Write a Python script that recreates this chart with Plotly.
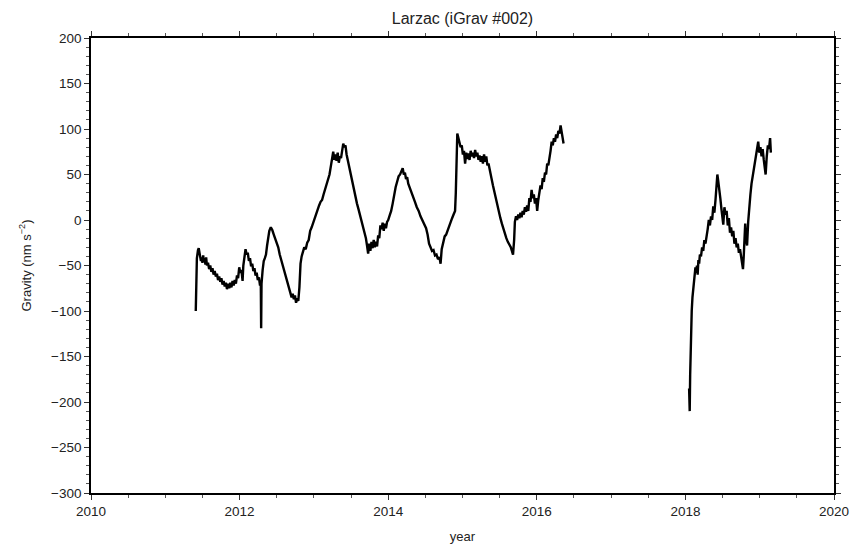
import plotly.graph_objects as go

# ---- data (year, gravity in nm/s^2) ----
seg1_points = [
    (2011.410, -100), (2011.415, -60), (2011.425, -42), (2011.440, -33), (2011.450, -31),
    (2011.460, -36), (2011.470, -40), (2011.480, -45), (2011.490, -41), (2011.500, -47),
    (2011.510, -39), (2011.520, -46), (2011.530, -42), (2011.540, -49), (2011.550, -41),
    (2011.560, -50), (2011.575, -47), (2011.590, -54), (2011.605, -50), (2011.620, -57),
    (2011.635, -53), (2011.650, -60), (2011.665, -56), (2011.680, -62), (2011.695, -59),
    (2011.710, -66), (2011.725, -62), (2011.740, -68), (2011.755, -64), (2011.770, -71),
    (2011.785, -67), (2011.800, -73), (2011.815, -69), (2011.830, -76), (2011.845, -70),
    (2011.860, -75), (2011.875, -69), (2011.890, -74), (2011.905, -67), (2011.920, -72),
    (2011.935, -66), (2011.950, -70), (2011.965, -61), (2011.980, -64), (2011.995, -52),
    (2012.010, -58), (2012.025, -55), (2012.040, -67), (2012.050, -50), (2012.065, -40),
    (2012.080, -32), (2012.095, -38), (2012.110, -36), (2012.125, -45), (2012.140, -42),
    (2012.155, -51), (2012.170, -48), (2012.185, -56), (2012.200, -53), (2012.215, -61),
    (2012.230, -58), (2012.245, -66), (2012.260, -63), (2012.275, -72), (2012.285, -67),
    (2012.290, -119), (2012.295, -70), (2012.310, -55), (2012.325, -45), (2012.340, -42),
    (2012.355, -38), (2012.370, -28), (2012.385, -20), (2012.400, -12), (2012.420, -8),
    (2012.440, -11), (2012.460, -16), (2012.480, -20), (2012.500, -25), (2012.520, -30),
    (2012.540, -38), (2012.560, -44), (2012.580, -52), (2012.600, -58), (2012.620, -63),
    (2012.640, -69), (2012.660, -74), (2012.680, -79), (2012.700, -85), (2012.715, -81),
    (2012.730, -87), (2012.745, -83), (2012.760, -91), (2012.775, -86), (2012.790, -89),
    (2012.805, -74), (2012.820, -48), (2012.835, -40), (2012.850, -36), (2012.870, -30),
    (2012.890, -32), (2012.910, -25), (2012.930, -22), (2012.950, -12), (2012.970, -8),
    (2012.990, -3), (2013.010, 2), (2013.030, 8), (2013.050, 12), (2013.070, 16),
    (2013.090, 20), (2013.110, 22), (2013.130, 28), (2013.150, 33), (2013.170, 38),
    (2013.190, 44), (2013.210, 50), (2013.230, 60), (2013.245, 70), (2013.260, 75),
    (2013.275, 66), (2013.290, 72), (2013.305, 65), (2013.320, 74), (2013.335, 63),
    (2013.350, 70), (2013.365, 68), (2013.380, 78), (2013.395, 84), (2013.410, 80),
    (2013.425, 82), (2013.440, 72), (2013.460, 64), (2013.480, 55), (2013.500, 48),
    (2013.520, 40), (2013.540, 33), (2013.560, 26), (2013.580, 18), (2013.600, 12),
    (2013.620, 6), (2013.640, 0), (2013.660, -6), (2013.680, -12), (2013.700, -20),
    (2013.715, -28), (2013.730, -37), (2013.745, -26), (2013.760, -34), (2013.775, -24),
    (2013.790, -31), (2013.805, -22), (2013.820, -30), (2013.835, -24), (2013.850, -29),
    (2013.865, -17), (2013.880, -20), (2013.895, -6), (2013.910, -10), (2013.925, -3),
    (2013.940, -12), (2013.955, -4), (2013.970, -9), (2013.985, -2), (2014.000, 0),
    (2014.020, 5), (2014.040, 10), (2014.060, 18), (2014.080, 28), (2014.100, 36),
    (2014.120, 42), (2014.140, 48), (2014.160, 50), (2014.180, 54), (2014.195, 57),
    (2014.210, 50), (2014.225, 52), (2014.240, 45), (2014.255, 47), (2014.270, 40),
    (2014.290, 36), (2014.310, 32), (2014.335, 25), (2014.360, 20), (2014.385, 14),
    (2014.410, 10), (2014.435, 4), (2014.460, 0), (2014.485, -5), (2014.510, -9),
    (2014.530, -16), (2014.550, -26), (2014.570, -30), (2014.590, -34), (2014.610, -33),
    (2014.630, -39), (2014.650, -38), (2014.670, -43), (2014.690, -41), (2014.705, -48),
    (2014.720, -32), (2014.740, -24), (2014.760, -18), (2014.780, -16), (2014.800, -11),
    (2014.820, -7), (2014.840, -2), (2014.860, 2), (2014.880, 6), (2014.900, 10),
    (2014.910, 30), (2014.920, 80), (2014.930, 95), (2014.945, 90), (2014.960, 86),
    (2014.975, 80), (2014.990, 82), (2015.005, 72), (2015.020, 76), (2015.035, 62),
    (2015.050, 74), (2015.065, 67), (2015.080, 73), (2015.095, 66), (2015.110, 76),
    (2015.125, 70), (2015.140, 74), (2015.155, 68), (2015.170, 77), (2015.185, 70),
    (2015.200, 74), (2015.215, 66), (2015.230, 71), (2015.245, 64), (2015.260, 70),
    (2015.275, 62), (2015.290, 72), (2015.305, 64), (2015.320, 70), (2015.335, 60),
    (2015.350, 62), (2015.370, 52), (2015.390, 46), (2015.410, 38), (2015.430, 30),
    (2015.450, 22), (2015.470, 14), (2015.490, 8), (2015.510, 2), (2015.530, -4),
    (2015.550, -10), (2015.570, -16), (2015.590, -20), (2015.610, -24), (2015.630, -27),
    (2015.650, -30), (2015.665, -34), (2015.680, -38), (2015.695, -22), (2015.705, -2),
    (2015.720, 4), (2015.735, 0), (2015.750, 6), (2015.765, 2), (2015.780, 8),
    (2015.795, 3), (2015.810, 10), (2015.825, 6), (2015.840, 14), (2015.855, 9),
    (2015.870, 16), (2015.885, 10), (2015.900, 24), (2015.915, 20), (2015.930, 33),
    (2015.945, 24), (2015.960, 28), (2015.975, 18), (2015.990, 24), (2016.005, 10),
    (2016.020, 22), (2016.035, 30), (2016.050, 38), (2016.065, 34), (2016.080, 46),
    (2016.095, 42), (2016.110, 52), (2016.125, 50), (2016.140, 62), (2016.155, 60),
    (2016.170, 72), (2016.185, 76), (2016.200, 86), (2016.215, 82), (2016.230, 90),
    (2016.245, 86), (2016.260, 94), (2016.275, 90), (2016.290, 98), (2016.305, 95),
    (2016.320, 104), (2016.335, 98), (2016.350, 88), (2016.360, 84),
]

seg2_points = [
    (2018.050, -185), (2018.058, -210), (2018.064, -170), (2018.070, -135), (2018.076, -115),
    (2018.085, -100), (2018.095, -85), (2018.105, -78), (2018.115, -70), (2018.125, -64),
    (2018.135, -52), (2018.145, -58), (2018.155, -50), (2018.165, -60), (2018.175, -44),
    (2018.185, -48), (2018.195, -38), (2018.210, -40), (2018.225, -30), (2018.240, -34),
    (2018.255, -22), (2018.270, -26), (2018.285, -14), (2018.300, -10), (2018.315, 0),
    (2018.330, -6), (2018.345, 4), (2018.360, 0), (2018.375, 15), (2018.390, 8),
    (2018.405, 22), (2018.420, 38), (2018.430, 50), (2018.440, 44), (2018.455, 36),
    (2018.470, 24), (2018.485, 12), (2018.500, -2), (2018.510, -5), (2018.525, 14),
    (2018.540, 6), (2018.555, 10), (2018.570, -6), (2018.585, 2), (2018.600, -14),
    (2018.615, -8), (2018.630, -18), (2018.645, -12), (2018.660, -26), (2018.675, -20),
    (2018.690, -30), (2018.705, -26), (2018.720, -36), (2018.735, -32), (2018.750, -42),
    (2018.765, -46), (2018.775, -54), (2018.785, -40), (2018.795, -10), (2018.805, -4),
    (2018.815, -20), (2018.830, -28), (2018.845, -2), (2018.860, 18), (2018.875, 28),
    (2018.890, 40), (2018.905, 48), (2018.920, 58), (2018.935, 64), (2018.950, 70),
    (2018.965, 80), (2018.980, 86), (2018.995, 74), (2019.010, 80), (2019.025, 70),
    (2019.040, 78), (2019.055, 66), (2019.070, 58), (2019.080, 50), (2019.095, 70),
    (2019.110, 82), (2019.125, 78), (2019.140, 90), (2019.150, 74),
]

seg1_year = [p[0] for p in seg1_points]
seg1_gravity = [p[1] for p in seg1_points]
seg2_year = [p[0] for p in seg2_points]
seg2_gravity = [p[1] for p in seg2_points]

x_tickvals = [2010, 2012, 2014, 2016, 2018, 2020]
y_tickvals = [-300, -250, -200, -150, -100, -50, 0, 50, 100, 150, 200]

title_text = "Larzac (iGrav #002)"
x_title = "year"
y_title = "Gravity (nm s<sup>−2</sup>)"

FONT = "Liberation Sans, Arial, Helvetica, sans-serif"

fig = go.Figure()
for xs, ys in [(seg1_year, seg1_gravity), (seg2_year, seg2_gravity)]:
    fig.add_trace(go.Scatter(x=xs, y=ys, mode="lines",
                             line=dict(color="black", width=2.4),
                             showlegend=False, hoverinfo="skip"))

axis_common = dict(
    showgrid=False, zeroline=False, showline=True, linecolor="black", linewidth=1.6,
    mirror="ticks", ticks="outside", ticklen=5, tickwidth=1, tickcolor="#333",
    tickfont=dict(family=FONT, size=13.5, color="#222"),
)

fig.update_xaxes(range=[2010, 2020], tickvals=x_tickvals,
                 minor=dict(dtick=0.5, tick0=2010, ticks="outside", ticklen=3, tickcolor="#555"),
                 title=dict(text=x_title, font=dict(family=FONT, size=13, color="#222"), standoff=14),
                 **axis_common)
fig.update_yaxes(range=[-300, 200], tickvals=y_tickvals,
                 minor=dict(dtick=10, tick0=0, ticks="outside", ticklen=3, tickcolor="#555"),
                 title=dict(text=y_title, font=dict(family=FONT, size=13, color="#222"), standoff=17),
                 **axis_common)

fig.update_layout(
    width=850, height=545,
    margin=dict(l=91, r=16, t=38, b=52, autoexpand=False),
    paper_bgcolor="white", plot_bgcolor="white",
    title=dict(text=title_text, x=0.5, xref="paper", xanchor="center",
               y=0.967, yref="container", yanchor="middle",
               font=dict(family=FONT, size=16, color="#222")),
)

fig.write_html("out.html",
               config={"displayModeBar": False},
               post_script="document.body.style.margin='0';document.body.style.overflow='hidden';")
